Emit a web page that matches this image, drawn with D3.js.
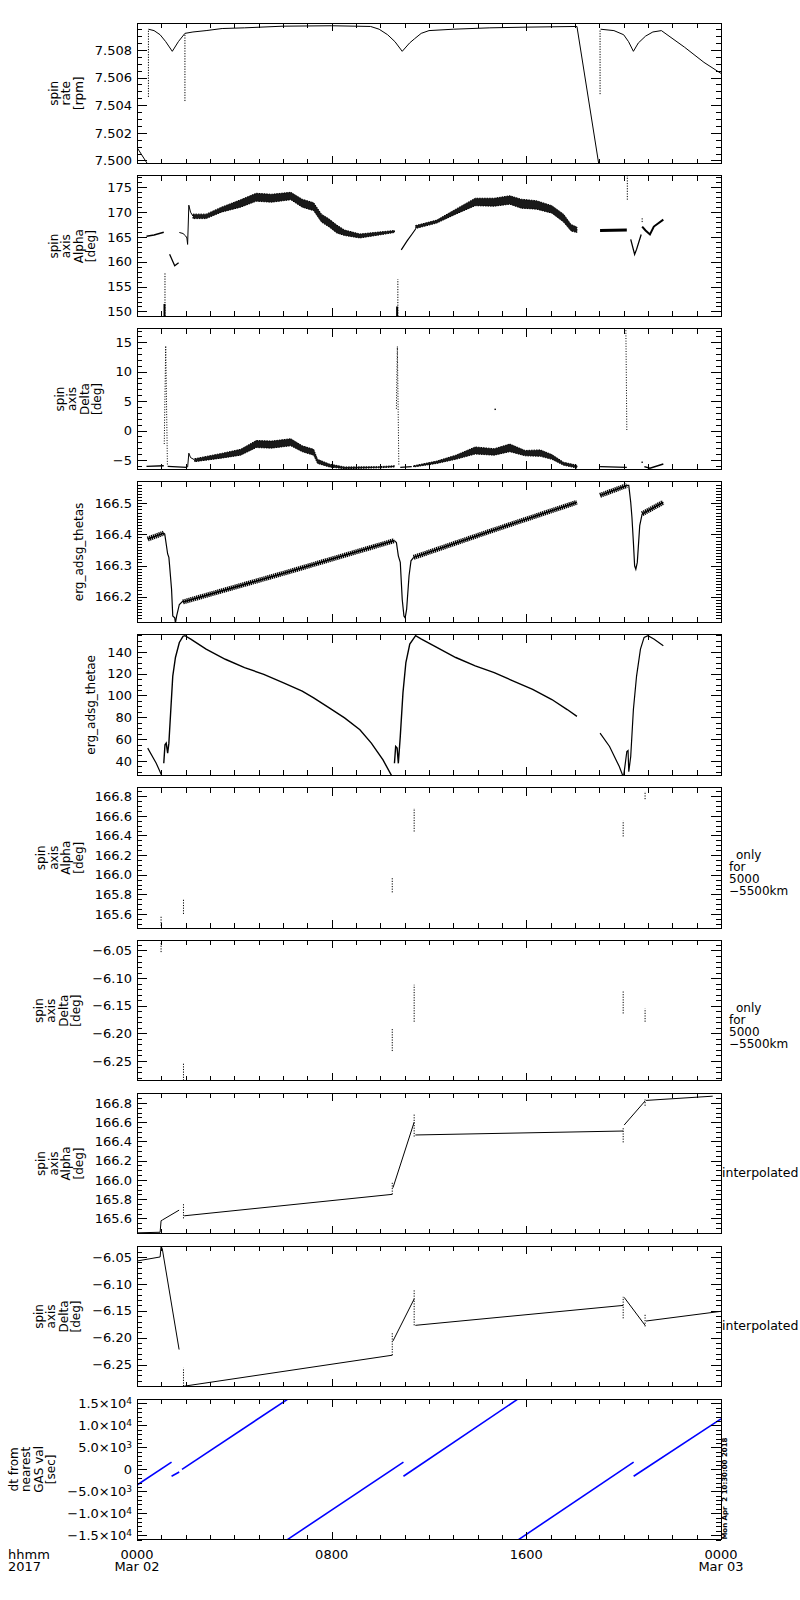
<!DOCTYPE html>
<html><head><meta charset="utf-8">
<script src="https://cdn.jsdelivr.net/npm/d3@7"></script>
<style>
body{margin:0;background:#fff;}
svg text{font-family:"DejaVu Sans",sans-serif;fill:#000;}
</style></head><body>
<svg id="c" width="800" height="1600"></svg>
<script>
// ---------- time axis ----------
const timeLabelHours = [0, 8, 16, 24];
const timeLabels = [["0000","Mar 02"],["0800"],["1600"],["0000","Mar 03"]];
const timeUnitLabel = ["hhmm","2017"];

// ---------- panel 1: spin rate [rpm] ----------
const rateTicks = [7.500, 7.502, 7.504, 7.506, 7.508];
const rateDrop0 = [[0,7.50094],[0.45,7.4997]];
const rateArc1 = [[0.47,7.5095],[0.7,7.5094],[0.95,7.5091],[1.18,7.5086],[1.45,7.5079],[1.7,7.5086],[1.97,7.5092],[2.3,7.5093],[2.84,7.5094],[3.5,7.50955],[4.42,7.5096],[6,7.50972],[8,7.50975],[9.6,7.5097],
  [9.95,7.5095],[10.3,7.5091],[10.6,7.5086],[10.9,7.5079],[11.2,7.5085],[11.4,7.5088],[11.68,7.5092],[12.0,7.5094],[13,7.5095],[14.5,7.5096],[16,7.50965],[18.08,7.5097]];
const rateDrop1 = [[18.08,7.5097],[18.98,7.4997]];
const rateArc2 = [[19.05,7.5095],[19.6,7.5094],[20.0,7.5091],[20.2,7.5086],[20.4,7.5079],[20.6,7.5085],[20.9,7.5090],[21.2,7.5093],[21.55,7.5094],[22.5,7.5082],[23.3,7.5071],[24,7.5063]];
const rateGaps = [[0.47,7.5046,7.5095],[1.97,7.5043,7.5092],[19.03,7.5048,7.5095]];

// ---------- panel 2: spin axis Alpha (GAS) ----------
const alphaTicks = [150,155,160,165,170,175];
const alphaSegA = [[0.39,165.15],[0.7,165.4],[1.1,165.95]];
const alphaSegB = [[1.34,161.5],[1.55,159.2],[1.71,159.8]];
const alphaSegC = [[1.74,165.9],[1.89,165.7],[2.0,165.2],[2.05,164.8],[2.08,163.5],[2.13,171.4],[2.2,170.0],[2.3,169.2]];
const alphaBand1 = [[2.3,168.7,169.6],[2.84,168.7,169.6],[3.47,170.0,171.0],[4.26,171.0,172.5],[4.9,172.2,173.8],[5.53,172.0,173.6],[6.32,172.5,174.0],[6.79,171.0,172.6],[7.26,170.3,171.9],[7.58,168.0,169.6],[7.9,167.0,168.6],[8.21,165.8,167.4],[8.53,165.3,166.4],[9.16,164.8,165.6],[9.95,165.4,166.0],[10.58,165.9,166.3]];
const alphaSegD = [[10.86,162.4],[11.1,164.2],[11.29,165.5],[11.45,166.6]];
const alphaBand2 = [[11.45,166.7,167.3],[12.32,167.8,168.4],[13.1,169.6,170.6],[13.9,171.3,172.8],[14.68,171.2,172.8],[15.32,171.6,173.3],[15.79,170.8,172.6],[16.42,170.6,172.3],[17.05,169.8,171.3],[17.53,168.0,169.6],[17.84,166.2,167.5],[18.08,165.9,167.0]];
const alphaSegE = [[19.03,166.3],[20.13,166.4]];
const alphaSegF = [[20.29,164.5],[20.45,161.5],[20.53,162.5],[20.72,165.5]];
const alphaSegG = [[20.76,167.1],[20.9,166.3],[21.08,165.5],[21.24,167.1],[21.63,168.5]];
const alphaGaps = [[1.15,148,157.8],[10.72,148,156.5],[20.15,172.5,178],[20.76,168.0,169.0]];
const alphaClusters = [[1.13,148,151.5],[10.69,148,151.0]];

// ---------- panel 3: spin axis Delta (GAS) ----------
const deltaTicks = [-5,0,5,10,15];
const deltaSegA = [[0.39,-6.1],[1.1,-6.0]];
const deltaSpikeA = [[1.12,-2.3],[1.18,14.4],[1.25,-6.0]];
const deltaSegB = [[1.26,-6.1],[2.05,-6.26]];
const deltaSegC = [[2.08,-6.26],[2.13,-3.86],[2.2,-4.6],[2.37,-5.0]];
const deltaBand1 = [[2.37,-5.3,-4.8],[3.47,-4.7,-3.9],[4.26,-4.2,-3.2],[4.9,-2.9,-1.7],[5.53,-3.0,-1.8],[6.32,-2.6,-1.4],[6.79,-3.6,-2.6],[7.26,-4.2,-3.2],[7.42,-5.6,-4.9],[7.9,-6.2,-5.7],[8.53,-6.5,-6.2],[9.95,-6.35,-6.15],[10.58,-6.2,-6.0]];
const deltaSpikeB = [[10.66,3.7],[10.7,14.3],[10.76,-5.8]];
const deltaSegD = [[10.82,-6.26],[11.29,-6.14]];
const deltaBand2 = [[11.37,-6.2,-6.0],[12.32,-5.6,-5.2],[13.1,-4.9,-4.2],[13.9,-4.0,-2.8],[14.68,-4.2,-3.1],[15.32,-3.6,-2.3],[15.95,-4.3,-3.4],[16.58,-4.4,-3.3],[17.05,-4.9,-4.1],[17.53,-5.9,-5.4],[18.08,-6.4,-5.9]];
const deltaSegE = [[19.03,-6.14],[20.13,-6.26]];
const deltaSpikeC = [[20.09,17.5],[20.13,0.0]];
const deltaSegF = [[20.85,-6.14],[21.08,-6.43],[21.63,-5.69]];
const deltaPoints = [[14.72,3.6],[20.76,-5.4]];

// ---------- panel 4: erg_adsg_thetas ----------
const thetasTicks = [166.2,166.3,166.4,166.5];
const thetasBandA = [[0.44,166.385],[1.1,166.404]];
const thetasDipA = [[1.1,166.404],[1.14,166.401],[1.26,166.337],[1.31,166.326],[1.34,166.299],[1.42,166.224],[1.47,166.138],[1.55,166.132],[1.58,166.116],[1.63,166.138],[1.74,166.175],[1.89,166.186]];
const thetasBandB = [[1.89,166.183],[6.24,166.28],[10.58,166.380]];
const thetasDipB = [[10.58,166.380],[10.66,166.374],[10.74,166.331],[10.82,166.310],[10.9,166.191],[10.97,166.138],[11.02,166.132],[11.08,166.159],[11.18,166.267],[11.26,166.315],[11.37,166.326]];
const thetasBandC = [[11.37,166.326],[14.7,166.415],[18.08,166.503]];
const thetasBandD = [[19.03,166.525],[20.13,166.557]];
const thetasDipC = [[20.13,166.557],[20.21,166.557],[20.29,166.503],[20.34,166.455],[20.4,166.374],[20.45,166.299],[20.5,166.288],[20.56,166.310],[20.66,166.428],[20.76,166.466]];
const thetasBandE = [[20.76,166.466],[21.63,166.503]];

// ---------- panel 5: erg_adsg_thetae ----------
const thetaeTicks = [40,60,80,100,120,140];
const thetaeSegA = [[0.44,51.7],[0.79,37.8],[1.05,25.0]];
const thetaeSegB = [[1.1,37.8],[1.15,54.8],[1.2,56.3],[1.26,47.1],[1.31,56.3],[1.39,87.1],[1.47,117.8],[1.58,134.8],[1.74,148.6],[1.89,154.2],[1.97,154.8],[2.21,151.7],[2.84,142.5],[3.63,133.2],[4.42,125.5],[5.21,119.4],[6.0,111.7],[6.79,104.0],[7.26,97.8],[7.9,88.6],[8.53,79.4],[9.16,68.6],[9.63,56.3],[10.11,40.9],[10.5,25.0]];
const thetaeSegC = [[10.58,37.8],[10.63,53.2],[10.69,51.7],[10.74,37.8],[10.82,62.5],[10.93,102.5],[11.05,130.2],[11.21,147.1],[11.45,154.8],[11.69,151.7],[12.32,144.0],[13.1,134.8],[13.9,127.1],[14.68,120.9],[15.47,113.2],[16.26,105.5],[17.05,96.3],[17.68,87.1],[18.08,80.9]];
const thetaeSegD = [[19.03,65.5],[19.42,53.2],[19.82,34.8],[19.99,25.0],[20.05,34.8],[20.13,48.6],[20.18,49.5],[20.21,30.2],[20.29,44.0],[20.4,87.1],[20.53,117.8],[20.69,142.5],[20.84,153.2],[21.0,154.8],[21.24,151.7],[21.63,145.5]];

// ---------- panel 6/7: only for 5000-5500km ----------
const nearAlphaMarks = [[0.99,165.48,165.58],[1.91,165.6,165.75],[10.49,165.82,165.97],[11.39,166.44,166.68],[19.98,166.39,166.55],[20.88,166.77,166.85]];
const nearDeltaMarks = [[0.99,-6.053,-6.035],[1.91,-6.29,-6.253],[10.49,-6.232,-6.192],[11.39,-6.179,-6.112],[19.98,-6.164,-6.124],[20.88,-6.179,-6.155]];

// ---------- panel 8/9: interpolated ----------
const interpAlpha = [[[0,165.45],[0.95,165.456],[0.99,165.576],[1.04,165.583],[1.73,165.686]],[[1.94,165.627],[10.49,165.85]],[[10.52,165.919],[11.39,166.60]],[[11.44,166.467],[19.98,166.508]],[[20.02,166.57],[20.88,166.82]],[[20.92,166.826],[23.66,166.87]]];
const interpAlphaMarks = [[1.91,165.60,165.75],[10.49,165.85,165.97],[11.39,166.45,166.68],[19.98,166.39,166.55],[20.88,166.77,166.85]];
const interpDelta = [[[0,-6.0575],[0.95,-6.05],[0.99,-6.03],[1.04,-6.035],[1.73,-6.222]],[[1.94,-6.29],[10.49,-6.2325]],[[10.52,-6.206],[11.39,-6.128]],[[11.44,-6.177],[19.98,-6.14]],[[20.02,-6.125],[20.88,-6.177]],[[20.92,-6.169],[24,-6.151]]];
const interpDeltaMarks = [[1.91,-6.29,-6.256],[10.49,-6.2325,-6.19],[11.39,-6.177,-6.11],[19.98,-6.164,-6.124],[20.88,-6.179,-6.155]];

// ---------- panel 10: dt from nearest GAS val [sec] ----------
const dtTicks = [-15000,-10000,-5000,0,5000,10000,15000];
const dtTickLabels = [["−1.5","4"],["−1.0","4"],["−5.0","3"],["0",""],["5.0","3"],["1.0","4"],["1.5","4"]];
const dtSegs = [[[0,-3582],[1.42,1642]],[[1.42,-1567],[1.735,-597]],[[1.85,0],[6.2,16000]],[[6.18,-16000],[10.95,1642]],[[10.95,-1567],[15.65,16000]],[[15.68,-16000],[20.41,1642]],[[20.41,-1567],[24,11493]]];

const stamp = "Mon Apr  2 10:30:00 2018";

// ---------- layout / drawing ----------
const svg = d3.select('#c');
const X0 = 137, X1 = 721, TOP0 = 23, STEP = 152.9, H = 140.5;
const x = d3.scaleLinear().domain([0,24]).range([X0, X1]);

const hatch = {w:5, dash:'1.3,0.7'};

const panels = [
 {title:["spin","rate","[rpm]"], domain:[7.49978,7.50995], ticks:rateTicks, minor:0.0005, fmt:d3.format('.3f'),
  lines:[{d:rateDrop0},{d:rateArc1},{d:rateDrop1},{d:rateArc2}], marks:rateGaps},
 {title:["spin","axis","Alpha","[deg]"], domain:[149.0,177.3], ticks:alphaTicks, minor:1, fmt:d3.format('d'),
  bands:[alphaBand1,alphaBand2],
  lines:[{d:alphaSegA,w:1.5},{d:alphaSegB,w:1.3},{d:alphaSegC},{d:alphaSegD,w:1.2},{d:alphaSegE,w:3},{d:alphaSegF,w:1.3},{d:alphaSegG,w:2}],
  marks:alphaGaps, clusters:alphaClusters},
 {title:["spin","axis","Delta","[deg]"], domain:[-6.6,17.3], ticks:deltaTicks, minor:1, fmt:d3.format('d'),
  bands:[deltaBand1,deltaBand2],
  lines:[{d:deltaSegA,w:1.3},{d:deltaSegB,w:1.3},{d:deltaSegC},{d:deltaSegD,w:1.3},{d:deltaSegE,w:1.3},{d:deltaSegF,w:1.5}],
  dotted:[deltaSpikeA,deltaSpikeB,deltaSpikeC], points:deltaPoints},
 {title:["erg_adsg_thetas"], domain:[166.118,166.569], ticks:thetasTicks, minor:0.01, fmt:d3.format('.1f'),
  lines:[{d:thetasBandA,...hatch},{d:thetasDipA,w:1.2},{d:thetasBandB,...hatch},{d:thetasDipB,w:1.2},{d:thetasBandC,...hatch},{d:thetasBandD,...hatch},{d:thetasDipC,w:1.2},{d:thetasBandE,...hatch},
         {d:thetasBandA,w:1.5},{d:thetasBandB,w:1.5},{d:thetasBandC,w:1.5},{d:thetasBandD,w:1.5},{d:thetasBandE,w:1.5}]},
 {title:["erg_adsg_thetae"], domain:[27,155.8], ticks:thetaeTicks, minor:5, fmt:d3.format('d'),
  lines:[{d:thetaeSegA,w:1.2},{d:thetaeSegB,w:1.4},{d:thetaeSegC,w:1.4},{d:thetaeSegD,w:1.2}]},
 {title:["spin","axis","Alpha","[deg]"], domain:[165.457,166.889], ticks:[165.6,165.8,166.0,166.2,166.4,166.6,166.8], minor:0.05, fmt:d3.format('.1f'),
  marks:nearAlphaMarks, right:["only","for","5000","−5500km"]},
 {title:["spin","axis","Delta","[deg]"], domain:[-6.286,-6.0318], ticks:[-6.25,-6.20,-6.15,-6.10,-6.05], minor:0.01, fmt:d3.format('.2f'),
  marks:nearDeltaMarks, right:["only","for","5000","−5500km"]},
 {title:["spin","axis","Alpha","[deg]"], domain:[165.44,166.90], ticks:[165.6,165.8,166.0,166.2,166.4,166.6,166.8], minor:0.05, fmt:d3.format('.1f'),
  lines:interpAlpha.map(d=>({d})), marks:interpAlphaMarks, interp:true},
 {title:["spin","axis","Delta","[deg]"], domain:[-6.291,-6.030], ticks:[-6.25,-6.20,-6.15,-6.10,-6.05], minor:0.01, fmt:d3.format('.2f'),
  lines:interpDelta.map(d=>({d})), marks:interpDeltaMarks, interp:true},
 {title:["dt from","nearest","GAS val","[sec]"], domain:[-16000,16000], ticks:dtTicks, minor:1000, fmt:d3.format('d'),
  lines:dtSegs.map(d=>({d,w:1.6})), color:'#0000ff', sci:true, last:true}
];

const hourMinor = d3.range(0,25,1);

panels.forEach((p,i)=>{
  const top = TOP0 + i*STEP, bot = top + H;
  const y = d3.scaleLinear().domain(p.domain).range([bot, top]);
  const color = p.color || '#000';
  const g = svg.append('g');
  const cid = 'clip'+i;
  svg.append('clipPath').attr('id',cid).append('rect')
     .attr('x',X0).attr('y',top).attr('width',X1-X0).attr('height',H);
  const dg = g.append('g').attr('clip-path',`url(#${cid})`);
  const line = d3.line().x(d=>x(d[0])).y(d=>y(d[1]));
  const area = d3.area().x(d=>x(d[0])).y0(d=>y(d[1])).y1(d=>y(d[2]));

  (p.bands||[]).forEach(b=>{
    dg.append('path').attr('d',area(b)).attr('fill',color).attr('fill-opacity',0.9)
      .attr('stroke',color).attr('stroke-width',1).attr('stroke-dasharray','1.5,1');
  });
  (p.lines||[]).forEach(l=>{
    const s = dg.append('path').attr('d',line(l.d)).attr('fill','none')
      .attr('stroke',color).attr('stroke-width',l.w||1);
    if (l.dash) s.attr('stroke-dasharray',l.dash);
  });
  (p.dotted||[]).forEach(l=>dg.append('path').attr('d',line(l)).attr('fill','none')
      .attr('stroke',color).attr('stroke-width',1).attr('stroke-dasharray','1,1.6'));
  (p.marks||[]).forEach(m=>dg.append('path').attr('d',line([[m[0],m[1]],[m[0],m[2]]]))
      .attr('fill','none').attr('stroke',color).attr('stroke-width',1).attr('stroke-dasharray','1.2,1.4'));
  (p.clusters||[]).forEach(m=>dg.append('path').attr('d',line([[m[0],m[1]],[m[0],m[2]]]))
      .attr('fill','none').attr('stroke',color).attr('stroke-width',2));
  (p.points||[]).forEach(pt=>dg.append('rect').attr('x',x(pt[0])-0.7).attr('y',y(pt[1])-0.7)
      .attr('width',1.4).attr('height',1.4).attr('fill',color));

  // y axes
  const minorVals = d3.range(Math.ceil(p.domain[0]/p.minor - 1e-6), Math.floor(p.domain[1]/p.minor + 1e-6)+1)
                      .map(k=>k*p.minor);
  const ax = g.append('g').attr('transform',`translate(${X0},0)`);
  ax.call(d3.axisLeft(y).tickValues(p.ticks).tickSizeInner(-10).tickSizeOuter(0).tickPadding(5).tickFormat(p.fmt));
  ax.append('g').call(d3.axisLeft(y).tickValues(minorVals).tickSizeInner(-5).tickSizeOuter(0).tickFormat(''));
  const axr = g.append('g').attr('transform',`translate(${X1},0)`);
  axr.call(d3.axisRight(y).tickValues(p.ticks).tickSizeInner(-10).tickSizeOuter(0).tickFormat(''));
  axr.append('g').call(d3.axisRight(y).tickValues(minorVals).tickSizeInner(-5).tickSizeOuter(0).tickFormat(''));
  // x axes (ticks only)
  [[top, d3.axisTop],[bot, d3.axisBottom]].forEach(([yy,fn])=>{
    const a = g.append('g').attr('transform',`translate(0,${yy})`);
    a.call(fn(x).tickValues(hourMinor).tickSizeInner(-5).tickSizeOuter(0).tickFormat(''));
    a.append('g').call(fn(x).tickValues(timeLabelHours).tickSizeInner(-8).tickSizeOuter(0).tickFormat(''));
  });
  g.selectAll('.domain').remove();
  g.selectAll('.tick line').attr('stroke','#000').attr('shape-rendering','crispEdges');
  ax.attr('font-size',13).attr('font-family','DejaVu Sans');
  ax.selectAll('.tick text').attr('fill','#000');

  if (p.sci){
    ax.selectAll(':scope > .tick text').each(function(d,k){
      const t = d3.select(this); t.text('');
      const lab = dtTickLabels[k];
      if (lab[1]===''){ t.append('tspan').text(lab[0]); }
      else {
        t.append('tspan').text(lab[0]+'×10');
        t.append('tspan').attr('dy','-0.45em').attr('font-size',9).text(lab[1]);
      }
    });
  }

  // frame
  g.append('rect').attr('x',X0).attr('y',top).attr('width',X1-X0).attr('height',H)
    .attr('fill','none').attr('stroke','#000').attr('stroke-width',1).attr('shape-rendering','crispEdges');

  // title
  let minX = 0;
  ax.selectAll(':scope > .tick text').each(function(){ const b=this.getBBox(); minX=Math.min(minX,b.x); });
  const xLast = X0 + minX - 16;
  const sp = 12.5, n = p.title.length, yc = (top+bot)/2;
  p.title.forEach((s,j)=>{
    svg.append('text').attr('transform',`translate(${xLast+(j-(n-1))*sp},${yc}) rotate(-90)`)
      .attr('text-anchor','middle').attr('dy','0.35em').attr('font-size',12).text(s);
  });

  if (p.right){
    const y0 = top + 67;
    p.right.forEach((s,j)=>{
      svg.append('text').attr('x', j===0 ? 736 : 729).attr('y', y0 + j*12).attr('dy','0.35em')
        .attr('font-size',12).text(s);
    });
  }
  if (p.interp){
    svg.append('text').attr('x',722).attr('y',top+79).attr('dy','0.35em').attr('font-size',12.5).text('interpolated');
  }
  if (p.last){
    timeLabelHours.forEach((h,k)=>{
      timeLabels[k].forEach((s,j)=>{
        svg.append('text').attr('x',x(h)).attr('y',bot+19+j*12).attr('text-anchor','middle')
          .attr('font-size',13).text(s);
      });
    });
    timeUnitLabel.forEach((s,j)=>{
      svg.append('text').attr('x',8).attr('y',bot+19+j*12).attr('font-size',13).text(s);
    });
    svg.append('text').attr('transform',`translate(727,${bot})rotate(-90)`)
      .attr('font-size',7).attr('font-weight','bold').style('white-space','pre').text(stamp);
  }
});
</script></body></html>
